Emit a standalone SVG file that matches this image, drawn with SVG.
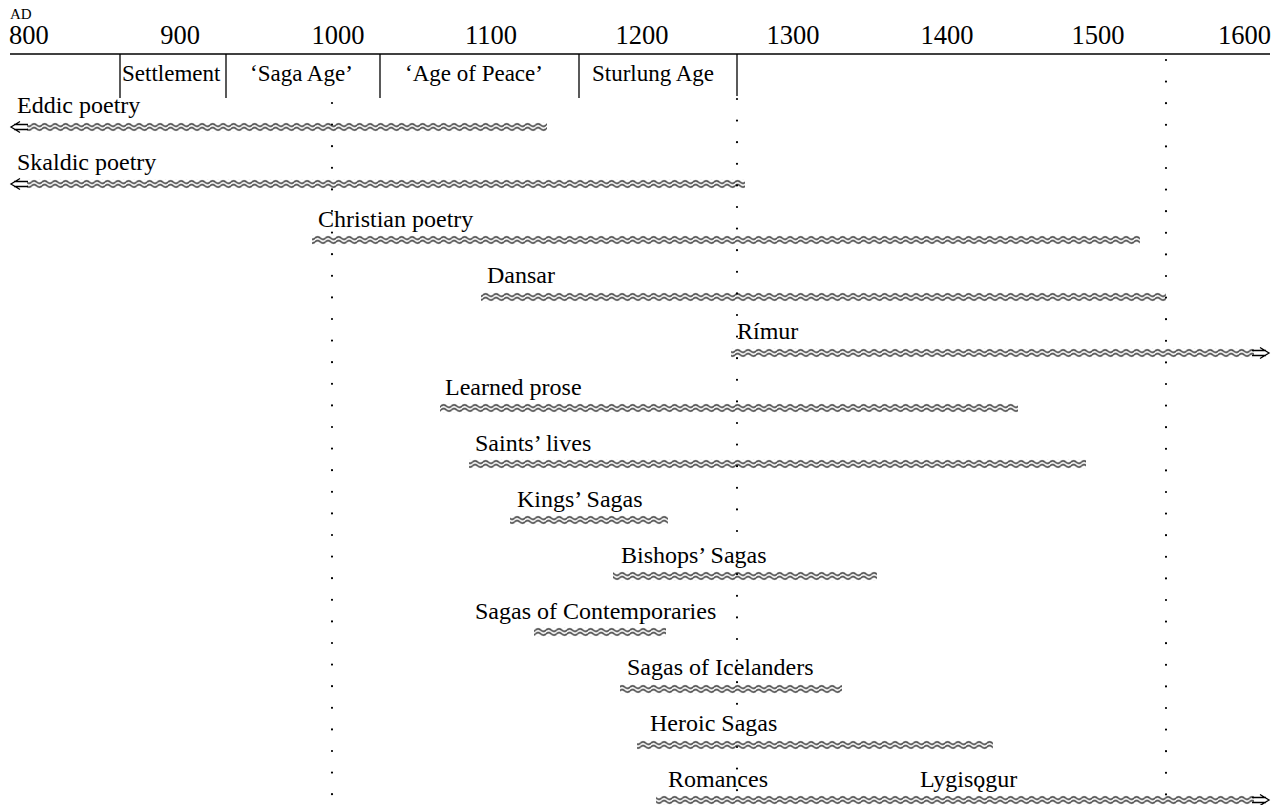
<svg xmlns="http://www.w3.org/2000/svg" width="1282" height="805" viewBox="0 0 1282 805">
<style>
text{font-family:"Liberation Serif","Times New Roman",serif;fill:#000}
.yr{font-size:26.5px}
.ad{font-size:15px}
.hd{font-size:23px}
.lb{font-size:24px}
.ln{stroke:#000;stroke-width:1.3;fill:none}
.dot{stroke:#000;stroke-width:2.2;stroke-linecap:round;stroke-dasharray:0 21.6;fill:none}
.arr{stroke:#000;stroke-width:1.3;fill:none}
</style>
<defs>
<pattern id="wave" patternUnits="userSpaceOnUse" x="0" y="-4.5" width="10.5" height="9">
<path d="M0,2.6 Q2.625,0.2 5.25,2.6 T10.5,2.6 M0,6.4 Q2.625,4 5.25,6.4 T10.5,6.4" fill="none" stroke="#000" stroke-width="1.2"/>
</pattern>
</defs>
<g id="axis">
<text class="ad" x="10" y="19">AD</text>
<text class="yr" x="9" y="44">800</text>
<text class="yr" x="180" y="44" text-anchor="middle">900</text>
<text class="yr" x="338" y="44" text-anchor="middle">1000</text>
<text class="yr" x="491" y="44" text-anchor="middle">1100</text>
<text class="yr" x="642" y="44" text-anchor="middle">1200</text>
<text class="yr" x="793" y="44" text-anchor="middle">1300</text>
<text class="yr" x="947" y="44" text-anchor="middle">1400</text>
<text class="yr" x="1098" y="44" text-anchor="middle">1500</text>
<text class="yr" x="1271" y="44" text-anchor="end">1600</text>
<line class="ln" x1="10" y1="54" x2="1270" y2="54"/>
</g>
<g id="periods">
<line class="ln" x1="120" y1="54" x2="120" y2="98"/>
<line class="ln" x1="226" y1="54" x2="226" y2="98"/>
<line class="ln" x1="380" y1="54" x2="380" y2="98"/>
<line class="ln" x1="579" y1="54" x2="579" y2="98"/>
<line class="ln" x1="737" y1="54" x2="737" y2="96"/>
<text class="hd" x="122" y="81">Settlement</text>
<text class="hd" x="250" y="81">‘Saga Age’</text>
<text class="hd" x="405" y="81">‘Age of Peace’</text>
<text class="hd" x="592" y="81">Sturlung Age</text>
</g>
<g id="markers">
<line class="dot" x1="332" y1="103" x2="332" y2="800"/>
<line class="dot" x1="737" y1="99" x2="737" y2="800"/>
<line class="dot" x1="1166" y1="60" x2="1166" y2="795"/>
</g>
<g id="connectors">
<g transform="translate(0,127)"><path class="arr" d="M20,-5.5 L11,0 L20,5.5 M14,-2.5 H28 M14,2.5 H28"/><rect x="27" y="-4.5" width="520" height="9" fill="url(#wave)"/></g>
<g transform="translate(0,184)"><path class="arr" d="M20,-5.5 L11,0 L20,5.5 M14,-2.5 H28 M14,2.5 H28"/><rect x="27" y="-4.5" width="718" height="9" fill="url(#wave)"/></g>
<g transform="translate(0,240)"><rect x="312" y="-4.5" width="828" height="9" fill="url(#wave)"/></g>
<g transform="translate(0,297)"><rect x="481" y="-4.5" width="685" height="9" fill="url(#wave)"/></g>
<g transform="translate(0,353)"><rect x="731" y="-4.5" width="523" height="9" fill="url(#wave)"/><path class="arr" d="M1260,-5.5 L1269,0 L1260,5.5 M1252,-2.5 H1266 M1252,2.5 H1266"/></g>
<g transform="translate(0,408)"><rect x="440" y="-4.5" width="578" height="9" fill="url(#wave)"/></g>
<g transform="translate(0,464)"><rect x="469" y="-4.5" width="617" height="9" fill="url(#wave)"/></g>
<g transform="translate(0,520)"><rect x="510" y="-4.5" width="158" height="9" fill="url(#wave)"/></g>
<g transform="translate(0,576)"><rect x="613" y="-4.5" width="264" height="9" fill="url(#wave)"/></g>
<g transform="translate(0,632)"><rect x="534" y="-4.5" width="132" height="9" fill="url(#wave)"/></g>
<g transform="translate(0,689)"><rect x="620" y="-4.5" width="222" height="9" fill="url(#wave)"/></g>
<g transform="translate(0,745)"><rect x="637" y="-4.5" width="356" height="9" fill="url(#wave)"/></g>
<g transform="translate(0,800)"><rect x="656" y="-4.5" width="598" height="9" fill="url(#wave)"/><path class="arr" d="M1260,-5.5 L1269,0 L1260,5.5 M1252,-2.5 H1266 M1252,2.5 H1266"/></g>
</g>
<g id="eddic"><text class="lb" x="17" y="113">Eddic poetry</text></g>
<g id="skaldic"><text class="lb" x="17" y="170">Skaldic poetry</text></g>
<g id="christian"><text class="lb" x="318" y="227">Christian poetry</text></g>
<g id="dansar"><text class="lb" x="487" y="283">Dansar</text></g>
<g id="rimur"><text class="lb" x="737" y="339">Rímur</text></g>
<g id="learned"><text class="lb" x="445" y="395">Learned prose</text></g>
<g id="saints"><text class="lb" x="475" y="451">Saints’ lives</text></g>
<g id="kings"><text class="lb" x="517" y="507">Kings’ Sagas</text></g>
<g id="bishops"><text class="lb" x="621" y="563">Bishops’ Sagas</text></g>
<g id="contemporaries"><text class="lb" x="475" y="619">Sagas of Contemporaries</text></g>
<g id="icelanders"><text class="lb" x="627" y="675">Sagas of Icelanders</text></g>
<g id="heroic"><text class="lb" x="650" y="731">Heroic Sagas</text></g>
<g id="romances"><text class="lb" x="668" y="787">Romances</text></g>
<g id="lygisogur"><text class="lb" x="920" y="787">Lygisǫgur</text></g>
</svg>
